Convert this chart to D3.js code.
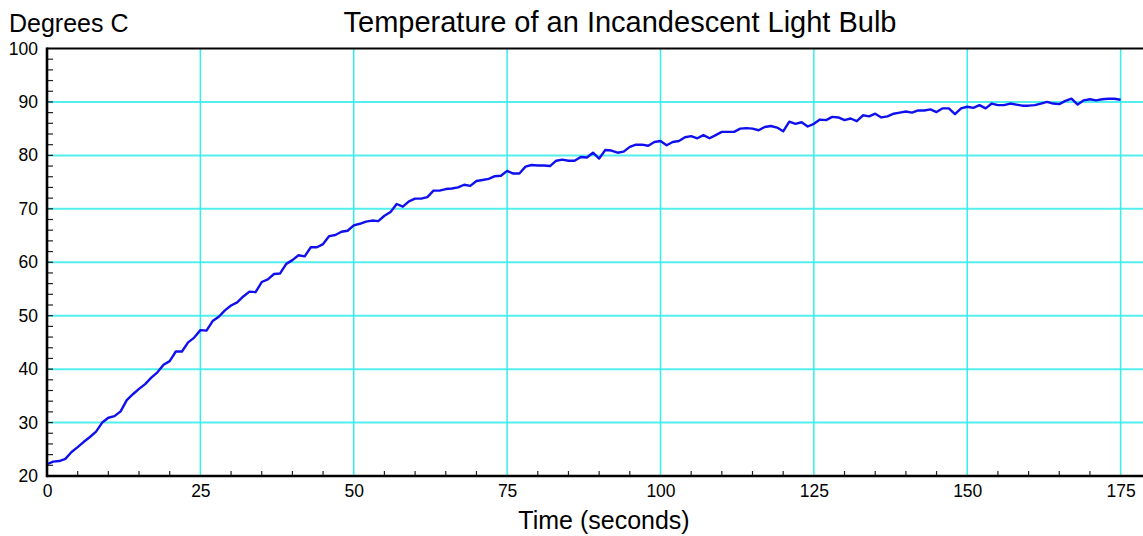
<!DOCTYPE html>
<html><head><meta charset="utf-8">
<script src="https://cdn.jsdelivr.net/npm/d3@7"></script>
<style>body{margin:0;background:#fff}svg{display:block}text{font-family:"Liberation Sans",Arial,Helvetica,sans-serif;fill:#000}</style>
</head><body><svg id="c" width="1143" height="536"></svg>
<script>
const title = "Temperature of an Incandescent Light Bulb";
const yTitle = "Degrees C";
const xTitle = "Time (seconds)";
const xTicks = [0,25,50,75,100,125,150,175];
const yTicks = [20,30,40,50,60,70,80,90,100];
const timeSec = d3.range(0,176);
const tempC = [
22.2,22.7,22.8,23.2,24.5,25.4,26.4,27.3,28.3,30.0,
30.9,31.2,32.1,34.2,35.3,36.3,37.2,38.4,39.4,40.8,
41.5,43.3,43.3,45.0,45.9,47.3,47.2,49.0,49.8,51.0,
51.9,52.5,53.6,54.5,54.4,56.3,56.8,57.8,57.9,59.7,
60.4,61.3,61.1,62.8,62.8,63.4,64.9,65.1,65.7,65.9,
66.9,67.2,67.6,67.8,67.7,68.7,69.4,70.9,70.4,71.4,
71.9,71.9,72.2,73.4,73.4,73.7,73.8,74.0,74.5,74.3,
75.2,75.4,75.6,76.1,76.2,77.1,76.6,76.6,77.9,78.2,
78.1,78.1,78.0,79.0,79.2,79.0,79.0,79.7,79.6,80.5,
79.4,81.0,80.9,80.5,80.7,81.6,82.0,82.0,81.8,82.5,
82.7,81.9,82.5,82.7,83.4,83.6,83.2,83.8,83.2,83.8,
84.4,84.4,84.4,85.0,85.1,85.0,84.7,85.3,85.5,85.2,
84.5,86.3,85.9,86.2,85.4,85.9,86.7,86.6,87.2,87.1,
86.6,86.9,86.4,87.5,87.3,87.8,87.1,87.3,87.8,88.0,
88.2,88.0,88.4,88.4,88.6,88.1,88.8,88.8,87.7,88.8,
89.1,88.9,89.4,88.8,89.7,89.4,89.4,89.7,89.5,89.3,
89.3,89.4,89.7,90.0,89.7,89.6,90.2,90.6,89.5,90.3,
90.5,90.3,90.5,90.6,90.6,90.4];

const svg = d3.select("#c");
const W = 1143;
const x = d3.scaleLinear().domain([0,175]).range([47,1120.6]);
const y = d3.scaleLinear().domain([20,100]).range([476,48.5]);
const xEnd = x.invert(W);

// grid
const g = svg.append("g");
g.selectAll(".hg").data(yTicks.filter(v=>v>20&&v<100)).join("line")
  .attr("x1",x(0)).attr("x2",W).attr("y1",d=>y(d)).attr("y2",d=>y(d))
  .attr("stroke","#55eeee").attr("stroke-width",2);
g.selectAll(".vg").data(xTicks.filter(v=>v>0)).join("line")
  .attr("x1",d=>x(d)).attr("x2",d=>x(d)).attr("y1",y(100)).attr("y2",y(20))
  .attr("stroke","#33eeee").attr("stroke-width",1.5);

// minor ticks
const yMinor = d3.range(22,100,2);
g.selectAll(".ym").data(yMinor).join("line")
  .attr("x1",x(0)).attr("x2",x(0)+6).attr("y1",d=>y(d)).attr("y2",d=>y(d))
  .attr("stroke","#222").attr("stroke-width",1.2);
const xMinor = d3.range(5,xEnd,5).filter(v=>v%25!==0);
g.selectAll(".xm").data(xMinor).join("line")
  .attr("x1",d=>x(d)).attr("x2",d=>x(d)).attr("y1",y(20)).attr("y2",y(20)-5)
  .attr("stroke","#222").attr("stroke-width",1.2);

// line
const line = d3.line().x((d,i)=>x(timeSec[i])).y(d=>y(d));
svg.append("path").datum(tempC).attr("d",line)
  .attr("fill","none").attr("stroke","#1010ee").attr("stroke-width",2.4)
  .attr("stroke-linejoin","round");

// frame
svg.append("line").attr("x1",x(0)).attr("x2",W).attr("y1",y(100)).attr("y2",y(100))
  .attr("stroke","#000").attr("stroke-width",2.2);
svg.append("line").attr("x1",x(0)).attr("x2",W).attr("y1",y(20)).attr("y2",y(20))
  .attr("stroke","#000").attr("stroke-width",2.6);
svg.append("line").attr("x1",x(0)).attr("x2",x(0)).attr("y1",y(100)-1).attr("y2",y(20)+1.3)
  .attr("stroke","#000").attr("stroke-width",2.6);

// axes labels via d3 axes
const xAx = d3.axisBottom(x).tickValues(xTicks).tickSize(0).tickPadding(9);
const xg = svg.append("g").attr("transform",`translate(0,${y(20)})`).call(xAx);
xg.select(".domain").remove();
xg.selectAll("text").attr("font-size",17.5).attr("font-family","Liberation Sans, Arial, sans-serif").attr("fill","#000");
const yAx = d3.axisLeft(y).tickValues(yTicks).tickSize(0).tickPadding(9);
const yg = svg.append("g").attr("transform",`translate(${x(0)},0)`).call(yAx);
yg.select(".domain").remove();
yg.selectAll("text").attr("font-size",17.5).attr("font-family","Liberation Sans, Arial, sans-serif").attr("fill","#000");

svg.append("text").attr("x",620).attr("y",32).attr("text-anchor","middle")
  .attr("font-size",29).text(title);
svg.append("text").attr("x",9).attr("y",32).attr("font-size",25).text(yTitle);
svg.append("text").attr("x",604).attr("y",529).attr("text-anchor","middle")
  .attr("font-size",25).text(xTitle);
</script></body></html>
